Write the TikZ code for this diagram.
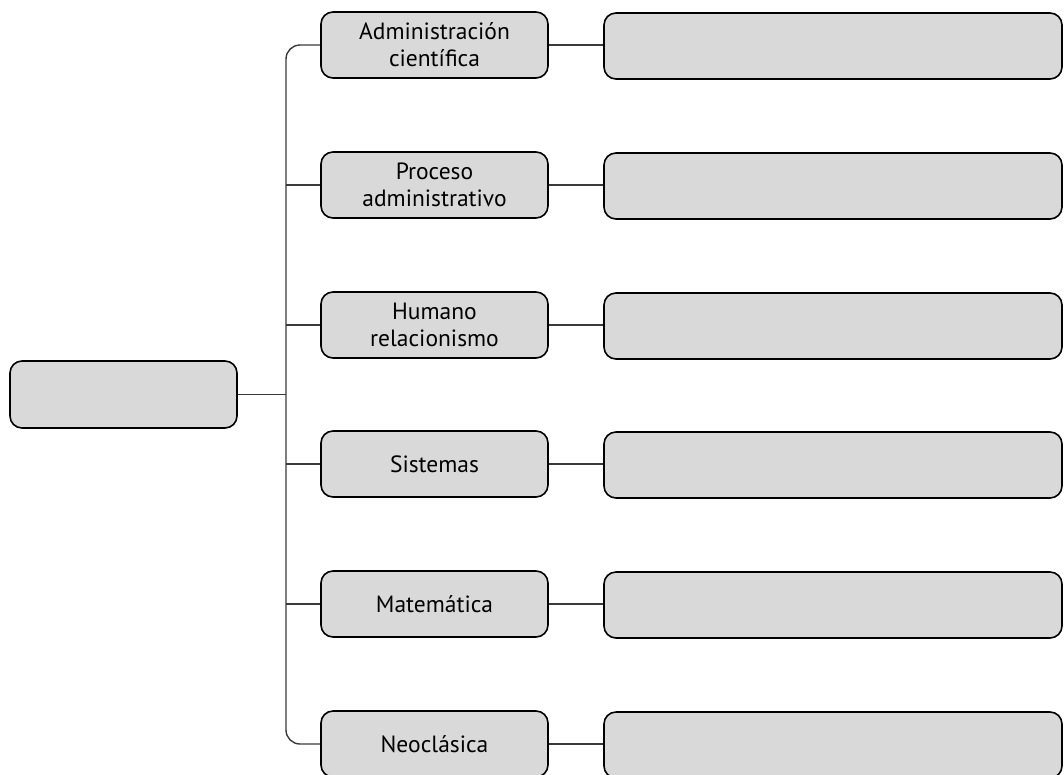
\documentclass[tikz,border=0pt]{standalone}
\usepackage{fontspec}
\setmainfont{PT Sans}
\begin{document}
\begin{tikzpicture}[x=1pt,y=-1pt,
  box/.style={draw=black,line width=1.6pt,fill=boxgray,rounded corners=12pt,minimum height=66pt,inner sep=0pt,align=center,font=\fontsize{23.5}{27}\selectfont},
  midbox/.style={box,minimum width=227pt},
  rightbox/.style={box,minimum width=458pt},
  link/.style={draw=linegray,line width=1.4pt}]
\definecolor{boxgray}{HTML}{D9D9D9}
\definecolor{linegray}{HTML}{3A3A3A}
\useasboundingbox (0,0) rectangle (1064,774);
\node[midbox,minimum height=67pt,minimum width=227pt] (L) at (123.5,394.5) {};
\node[midbox] (m1) at (434.5,45) {Administración\\científica};
\node[midbox] (m2) at (434.5,185) {Proceso\\administrativo};
\node[midbox] (m3) at (434.5,325) {Humano\\relacionismo};
\node[midbox] (m4) at (434.5,464) {Sistemas};
\node[midbox] (m5) at (434.5,604) {Matemática};
\node[midbox] (m6) at (434.5,744) {Neoclásica};
\foreach \i/\y in {1/46,2/186,3/326,4/465,5/605,6/745}{
  \node[rightbox] (r\i) at (833,\y) {};
  \draw[link] (m\i.east) -- (m\i.east -| r\i.west);
}
\coordinate (sp) at (286,394.5);
\draw[link,rounded corners=14pt] (m1.west) -| (m6.west -| sp) -- (m6.west);
\foreach \i in {2,3,4,5}{
  \draw[link] (m\i.west -| sp) -- (m\i.west);
}
\draw[link] (L.east) -- (sp);
\end{tikzpicture}
\end{document}
